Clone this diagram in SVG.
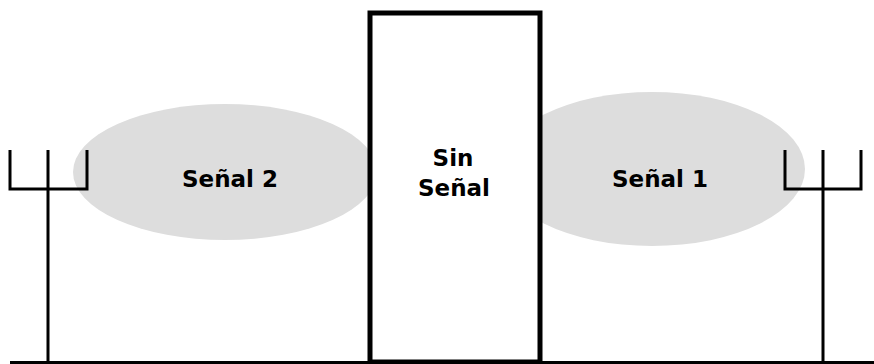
<svg xmlns="http://www.w3.org/2000/svg" width="874" height="364" viewBox="0 0 874 364">
<style>
.sig{fill:#dddddd;stroke:none}
.ln{stroke:#000;stroke-width:3;fill:none;stroke-linecap:butt}
.box{fill:#fff;stroke:#000;stroke-width:5}
.lbl{font-family:"DejaVu Sans",Verdana,sans-serif;font-weight:bold;font-size:23px;fill:#000;text-anchor:middle}
</style>
<rect width="874" height="364" fill="#fff"/>
<g id="signal2">
<ellipse class="sig" cx="225" cy="172" rx="152" ry="68"/>
<text class="lbl" x="230" y="187">Señal 2</text>
</g>
<g id="signal1">
<ellipse class="sig" cx="652" cy="169" rx="153" ry="77"/>
<text class="lbl" x="660" y="187">Señal 1</text>
</g>
<g id="no-signal">
<rect class="box" x="370" y="13" width="170" height="349"/>
<text class="lbl" x="453" y="166">Sin</text>
<text class="lbl" x="454" y="196">Señal</text>
</g>
<g id="antenna-left">
<path class="ln" d="M10 150V189H87V150M48 150V362"/>
</g>
<g id="antenna-right">
<path class="ln" d="M785 150V189H861V150M823 150V362"/>
</g>
<g id="connectors">
<line class="ln" x1="10" y1="362.5" x2="874" y2="362.5"/>
</g>
</svg>
